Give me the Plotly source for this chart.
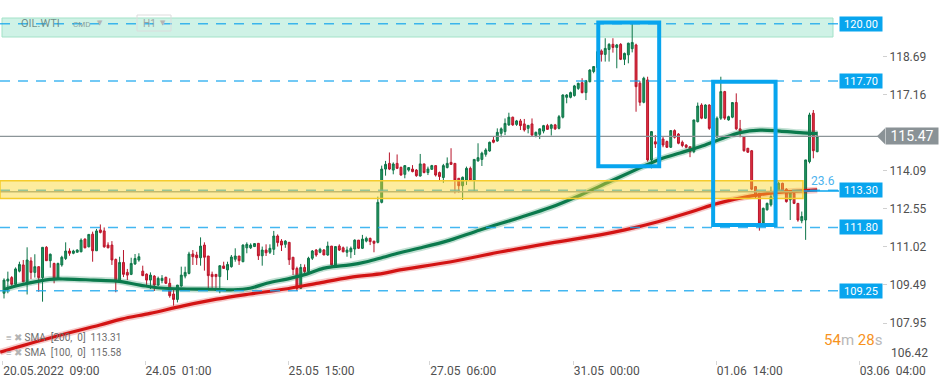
import plotly.graph_objects as go

# ---------------- data (OIL.WTI, H1) ----------------
open_ = [109.15,109.64,109.78,109.51,110.04,110.29,109.61,110.45,109.99,110.22,109.78,111.00,110.46,110.35,109.75,110.29,110.55,110.85,110.76,110.80,
110.82,111.33,111.02,111.53,110.86,111.70,111.66,111.09,111.09,110.51,109.61,110.39,109.99,109.91,110.33,110.49,110.04,109.92,109.68,109.84,
109.48,109.66,109.79,109.55,109.12,108.90,109.44,109.84,109.95,110.73,110.69,110.58,111.09,110.65,109.91,109.91,109.82,110.25,110.09,110.22,
110.52,110.65,110.42,110.98,110.98,111.03,111.16,110.66,110.89,110.80,110.92,111.455,111.25,111.12,111.20,110.60,110.15,109.35,110.19,110.02,
110.56,110.89,110.80,110.89,110.69,111.05,110.29,111.05,110.98,110.80,110.82,110.93,111.29,110.96,111.25,111.36,111.25,111.20,112.81,114.15,
114.38,114.11,114.38,114.22,113.94,114.11,114.15,114.11,113.87,114.36,114.01,114.14,114.29,114.01,113.81,114.21,114.42,114.38,113.78,113.48,
113.71,114.18,113.71,114.48,114.54,114.745,114.88,115.32,115.28,115.59,115.66,115.93,116.24,115.95,116.09,115.97,115.79,115.97,115.50,115.55,
115.68,115.90,115.79,115.93,115.79,116.24,117.04,117.04,117.11,117.40,117.63,117.23,117.67,118.08,118.24,118.91,118.77,118.97,119.175,119.05,
119.175,118.57,118.75,119.00,119.15,117.61,116.84,117.74,114.52,115.25,115.16,115.36,115.26,115.03,115.70,115.56,115.23,115.12,115.05,114.85,
116.06,116.73,116.20,116.73,115.79,115.45,116.20,117.27,116.13,116.24,116.83,115.77,115.46,114.99,114.89,113.445,113.175,111.97,112.51,112.71,
113.04,113.24,113.58,113.34,112.91,113.175,112.77,112.07,112.10,114.45,116.40,114.85]
high = [109.75,110.02,109.84,110.19,110.42,110.49,111.00,110.60,110.72,110.22,111.00,111.05,110.75,110.38,110.38,110.66,111.20,110.96,110.90,110.92,
111.36,111.36,111.53,111.63,111.74,111.92,111.80,111.20,111.25,110.55,110.62,110.89,110.13,110.58,110.73,110.76,110.26,109.95,109.99,109.88,
109.82,109.88,109.82,109.75,109.28,109.48,110.22,110.22,110.82,110.89,110.82,111.40,111.20,110.65,110.02,109.91,110.26,110.42,110.42,110.69,
110.96,110.65,111.12,111.20,111.16,111.17,111.17,111.03,111.12,111.12,111.66,111.52,111.33,111.29,111.20,110.60,110.22,110.33,110.31,110.62,
110.89,110.93,110.98,110.93,111.23,111.05,111.03,111.12,111.03,111.03,111.03,111.32,111.29,111.50,111.43,111.39,111.25,113.04,114.29,114.48,
114.82,114.42,114.74,114.25,114.31,114.23,114.31,114.15,114.76,114.36,114.25,114.32,114.29,114.05,114.36,114.62,114.99,114.38,113.78,113.85,
114.25,114.25,114.54,115.19,114.85,114.99,115.255,115.46,115.79,115.83,116.19,116.42,116.26,116.13,116.17,116.17,115.91,116.19,115.66,115.79,
115.93,115.97,115.97,115.97,116.33,117.16,117.17,117.27,117.54,117.63,117.81,117.74,118.17,118.30,118.92,118.97,119.42,119.22,119.42,119.19,
119.22,118.84,119.24,120.07,119.20,117.70,117.87,117.87,115.68,115.52,115.40,115.46,115.30,115.72,115.75,115.60,115.30,115.15,115.05,116.13,
116.83,116.80,116.76,116.76,115.85,116.27,117.87,117.30,116.30,116.85,117.20,116.13,115.46,115.00,114.92,113.445,113.175,112.60,112.80,113.445,
113.30,113.65,113.60,113.38,113.24,113.20,112.77,112.44,114.52,116.42,116.53,115.66]
low = [108.94,109.15,109.45,109.48,109.99,109.59,109.10,109.72,109.78,109.21,108.81,110.45,110.18,109.55,109.72,110.22,110.49,110.66,110.72,110.80,
110.80,110.96,111.00,110.42,110.85,111.56,110.98,110.96,110.29,109.19,109.61,109.80,109.68,109.88,110.29,110.42,109.84,109.45,109.32,109.24,
109.44,109.55,109.52,108.97,108.65,108.78,109.41,109.75,109.91,110.29,110.29,110.26,110.06,109.35,109.35,109.35,109.15,110.13,109.68,110.18,
110.42,110.29,110.40,110.76,110.93,111.01,110.49,110.26,110.65,110.73,110.69,111.03,110.85,110.98,110.29,109.88,109.24,109.32,109.88,110.00,
110.49,110.62,110.76,110.69,110.66,110.26,110.26,110.85,110.80,110.62,110.56,110.69,110.93,110.93,111.20,111.09,110.80,111.16,112.77,113.885,
114.11,113.94,114.15,113.885,113.78,114.05,114.02,113.84,113.85,113.98,113.91,114.12,113.85,113.71,113.60,114.18,114.32,113.17,113.20,112.91,
113.51,113.685,113.24,114.45,114.275,114.65,114.85,115.19,115.255,115.43,115.52,115.89,115.89,115.89,115.725,115.66,115.59,115.46,115.43,115.36,
115.59,115.725,115.50,115.725,115.75,116.19,116.80,117.00,117.07,117.34,117.20,116.93,117.645,118.01,118.21,118.48,118.48,118.48,118.84,118.21,
118.54,118.34,118.41,118.85,116.46,116.70,116.80,114.45,114.18,115.00,115.10,115.03,115.00,115.00,115.38,115.15,115.03,114.99,114.63,114.79,
116.03,116.16,116.17,115.73,115.38,115.40,116.13,116.13,116.10,116.20,115.73,115.43,114.85,114.80,113.30,112.97,111.67,111.94,112.48,112.64,
112.95,113.20,113.20,112.80,112.10,112.74,112.03,111.97,111.30,114.38,114.585,114.83]
close = [109.68,109.72,109.51,110.13,110.31,109.61,110.49,109.99,110.22,109.78,111.00,110.46,110.72,109.72,110.35,110.60,110.85,110.76,110.85,110.89,
111.29,110.98,111.52,110.86,111.66,111.60,111.02,110.98,110.49,109.61,110.39,109.91,109.88,110.35,110.55,110.62,109.86,109.68,109.88,109.48,
109.75,109.75,109.55,109.05,108.90,109.48,109.88,109.99,110.73,110.62,110.58,111.05,110.60,109.86,109.82,109.82,110.26,110.15,110.31,110.61,
110.65,110.46,111.09,111.12,111.09,111.15,110.66,110.89,110.78,110.96,111.455,111.19,111.09,111.25,110.50,110.11,109.35,110.19,110.02,110.56,
110.85,110.69,110.92,110.69,111.05,110.29,111.03,110.89,110.82,110.89,110.96,111.29,110.96,111.33,111.36,111.23,111.16,112.81,114.15,114.34,
114.15,114.355,114.18,113.91,114.29,114.21,114.05,113.885,114.36,114.01,114.155,114.29,113.91,113.85,114.29,114.38,114.34,113.71,113.48,113.82,
114.18,113.71,114.54,114.61,114.79,114.92,115.23,115.23,115.63,115.77,115.99,116.24,115.93,116.09,115.90,115.725,115.91,115.52,115.63,115.77,
115.90,115.75,115.93,115.77,116.26,117.135,117.135,117.23,117.50,117.605,117.23,117.71,118.14,118.28,118.88,118.77,119.01,119.175,119.05,119.15,
118.57,118.81,119.22,119.25,117.47,116.84,117.81,114.52,115.66,115.16,115.30,115.12,115.03,115.70,115.43,115.19,115.10,115.03,114.85,116.13,
116.69,116.20,116.73,115.79,115.45,116.20,117.27,116.20,116.26,116.83,115.77,115.66,114.89,114.83,113.34,113.04,111.97,112.57,112.77,113.04,
113.20,113.58,113.24,112.84,113.24,112.77,112.10,112.24,114.52,116.33,114.89,115.47]
candle_idx = list(range(len(close)))

# SMA lines (candle index, price)
sma100_idx = [0, 4.2, 11.9, 16.3, 23.2, 29.2, 35.3, 40.5, 47.4, 54.3, 59.5, 63.8, 68.2, 74.2, 78.5, 82.8, 85.4, 89.8,
              94.1, 98.4, 102.7, 107.9, 115.7, 123.5, 133.9, 141.7, 149.5, 157.2, 165, 170.2, 175.4, 180.6, 185.8,
              191, 196.2, 201.3, 206.5, 211]
sma100_val = [109.30, 109.48, 109.71, 109.72, 109.68, 109.64, 109.48, 109.36, 109.32, 109.31, 109.29, 109.35, 109.55,
              109.75, 109.92, 110.15, 110.22, 110.29, 110.42, 110.60, 110.78, 110.97, 111.29, 111.70, 112.20, 112.60,
              113.10, 113.65, 114.20, 114.55, 114.80, 115.05, 115.35, 115.62, 115.72, 115.68, 115.62, 115.58]
sma200_idx = [-1, 11.9, 24.9, 30.5, 37.9, 46.5, 55.2, 63.8, 72.5, 81.1, 89.8, 98.4, 102.7, 115.7, 128.7, 141.7, 154.7,
              161.1, 169.7, 178.4, 185.2, 194, 200.1, 207.8, 211]
sma200_val = [106.78, 107.35, 107.87, 108.11, 108.34, 108.64, 108.91, 109.12, 109.31, 109.55, 109.79, 109.95, 110.09,
              110.41, 110.81, 111.17, 111.50, 111.70, 112.03, 112.43, 112.77, 113.07, 113.20, 113.28, 113.31]

price_levels = [120.00, 117.70, 113.30, 111.80, 109.25]
last_price = 115.47
sma200_last = 113.31
sma100_last = 115.58
y_ticks = [107.95, 109.49, 111.02, 112.55, 114.09, 117.16, 118.69]
x_tickvals = [-0.3, 36.6, 73.7, 110.5, 147.7, 184.8, 221.9]
x_ticktext = ["20.05.2022  09:00", "24.05  01:00", "25.05  15:00", "27.05  06:00",
              "31.05  00:00", "01.06  14:00", "03.06  04:00"]
fib_text = "23.6"

# ---------------- figure ----------------
W, H = 949, 385
PLOT_H = 360
Y_RANGE = [120.96 - PLOT_H / 24.83, 120.96]
X_RANGE = [-1.038, 245.2]
FONT = "Roboto"
BLUE = "#08a5ee"


def px(x):
    return x / W


def py(y):
    return 1 - y / PLOT_H


fig = go.Figure()

# SMA glows + lines
fig.add_trace(go.Scatter(x=sma200_idx, y=sma200_val, mode="lines",
                         line=dict(color="rgba(215,20,20,0.22)", width=6.5, shape="spline"),
                         hoverinfo="skip", showlegend=False))
fig.add_trace(go.Scatter(x=sma100_idx, y=sma100_val, mode="lines",
                         line=dict(color="rgba(10,130,80,0.25)", width=6.5, shape="spline"),
                         hoverinfo="skip", showlegend=False))

fig.add_trace(go.Candlestick(
    x=candle_idx, open=open_, high=high, low=low, close=close,
    increasing=dict(line=dict(color="#0d7448", width=1), fillcolor="#23965f"),
    decreasing=dict(line=dict(color="#b8142a", width=1), fillcolor="#e0303f"),
    whiskerwidth=0, showlegend=False, hoverinfo="skip"))

fig.add_trace(go.Scatter(x=sma200_idx, y=sma200_val, mode="lines",
                         line=dict(color="#d31414", width=3.2, shape="spline"),
                         hoverinfo="skip", showlegend=False))
fig.add_trace(go.Scatter(x=sma100_idx, y=sma100_val, mode="lines",
                         line=dict(color="#0b7a4d", width=3.2, shape="spline"),
                         hoverinfo="skip", showlegend=False))
# dummy trace for the price scale axis
fig.add_trace(go.Scatter(x=[None], y=[None], yaxis="y2", showlegend=False, hoverinfo="skip"))

shapes = []
# 120 zone (mint)
shapes.append(dict(type="rect", xref="paper", yref="y", x0=px(2), x1=px(833), y0=119.47, y1=120.235,
                   fillcolor="#cff2e6", line=dict(color="#a3e2c8", width=1), layer="below"))
# dashed price levels
for lvl in price_levels:
    shapes.append(dict(type="line", xref="paper", yref="y", x0=0, x1=px(839), y0=lvl, y1=lvl,
                       line=dict(color="rgba(20,165,238,0.8)", width=1.5, dash="10px,8px"), layer="above"))
# gray fib line inside yellow zone, blue extension
shapes.append(dict(type="line", xref="paper", yref="y", x0=0, x1=px(803), y0=113.24, y1=113.24,
                   line=dict(color="#98a3a3", width=1.5), layer="above"))
shapes.append(dict(type="line", xref="paper", yref="y", x0=px(803), x1=px(839), y0=113.27, y1=113.27,
                   line=dict(color=BLUE, width=1.5), layer="above"))
# yellow zone
shapes.append(dict(type="rect", xref="paper", yref="y", x0=0, x1=px(803), y0=112.97, y1=113.68,
                   fillcolor="rgba(250,212,40,0.45)", line=dict(color="#f5cb2b", width=1.5), layer="above"))
# current price line
shapes.append(dict(type="line", xref="paper", yref="y", x0=0, x1=px(878), y0=last_price, y1=last_price,
                   line=dict(color="#8c9598", width=1.2), layer="above"))
# highlight boxes
shapes.append(dict(type="rect", xref="x", yref="y", x0=154.2, x1=170.0, y0=114.26, y1=120.05,
                   line=dict(color=BLUE, width=4), fillcolor="rgba(0,0,0,0)", layer="above"))
shapes.append(dict(type="rect", xref="x", yref="y", x0=184.0, x1=200.2, y0=111.90, y1=117.67,
                   line=dict(color=BLUE, width=4), fillcolor="rgba(0,0,0,0)", layer="above"))
# current price label arrow
d = 8 / 24.83
shapes.append(dict(type="path", xref="paper", yref="y",
                   path=f"M {px(877)},{last_price} L {px(885)},{last_price + d} L {px(885)},{last_price - d} Z",
                   fillcolor="#8a9296", line=dict(width=0), layer="above"))
# H1 box
shapes.append(dict(type="rect", xref="paper", yref="paper", x0=px(137), x1=px(171), y0=py(31), y1=py(15),
                   fillcolor="rgba(255,255,255,0)", line=dict(color="#dcdcdc", width=1), layer="above"))

annotations = []
for lvl in price_levels:
    annotations.append(dict(xref="paper", yref="y", x=px(839), y=lvl, xanchor="left", yanchor="middle",
                            text=f"{lvl:.2f}", showarrow=False, bgcolor=BLUE, width=42, height=14,
                            borderpad=0, font=dict(family=FONT, size=11, color="white")))
annotations.append(dict(xref="paper", yref="y", x=px(885), y=last_price, xanchor="left", yanchor="middle",
                        text=f"{last_price:.2f}", showarrow=False, bgcolor="#8a9296", width=52, height=16,
                        borderpad=0, font=dict(family=FONT, size=14, color="white")))
annotations.append(dict(xref="paper", yref="y", x=px(809), y=113.67, xanchor="left", yanchor="middle",
                        text=fib_text, showarrow=False, font=dict(family=FONT, size=12, color="#4db3ee")))
annotations.append(dict(xref="paper", yref="paper", x=px(889), y=py(353), xanchor="left", yanchor="middle",
                        text="106.42", showarrow=False, font=dict(family=FONT, size=12, color="#505050")))
# top-left instrument header
annotations.append(dict(xref="paper", yref="paper", x=px(19), y=py(24), xanchor="left", yanchor="middle",
                        text="OIL.WTI", showarrow=False, font=dict(family=FONT, size=11, color="rgba(95,125,120,0.85)")))
annotations.append(dict(xref="paper", yref="paper", x=px(71), y=py(25), xanchor="left", yanchor="middle",
                        text="CMD", showarrow=False, font=dict(family=FONT, size=8, color="rgba(120,140,138,0.8)")))
annotations.append(dict(xref="paper", yref="paper", x=px(95), y=py(23), xanchor="left", yanchor="middle",
                        text="▼", showarrow=False, font=dict(family="DejaVu Sans", size=7, color="#b5b5b5")))
annotations.append(dict(xref="paper", yref="paper", x=px(141), y=py(24), xanchor="left", yanchor="middle",
                        text="H1", showarrow=False, font=dict(family=FONT, size=10, color="#9aa5a5")))
annotations.append(dict(xref="paper", yref="paper", x=px(158), y=py(23), xanchor="left", yanchor="middle",
                        text="▼", showarrow=False, font=dict(family="DejaVu Sans", size=7, color="#b5b5b5")))
# SMA legend
for ypx, per, val in [(337, 200, sma200_last), (352.5, 100, sma100_last)]:
    annotations.append(dict(xref="paper", yref="paper", x=px(4), y=py(ypx), xanchor="left", yanchor="middle",
                            text="<span style='color:#a0a0a0'>≡</span> <span style='color:#b4b4b4'>✖</span> "
                                 f"<span style='color:#6e6e6e'>SMA  [{per},  0]  {val:.2f}</span>",
                            showarrow=False, font=dict(family=FONT, size=10, color="#777")))
# countdown
annotations.append(dict(xref="paper", yref="paper", x=px(822), y=py(340), xanchor="left", yanchor="middle",
                        text="<span style='color:#f7931e'>54</span><span style='color:#b8b8b8'>m</span> "
                             "<span style='color:#f7931e'>28</span><span style='color:#b8b8b8'>s</span>",
                        showarrow=False, font=dict(family=FONT, size=15, color="#f7931e")))

fig.update_layout(
    width=W, height=H,
    margin=dict(l=0, r=0, t=0, b=H - PLOT_H),
    paper_bgcolor="white", plot_bgcolor="white",
    showlegend=False,
    boxgap=0.3,
    font=dict(family=FONT, size=12, color="#505050"),
    xaxis=dict(domain=[0, 1], range=X_RANGE, showgrid=False, zeroline=False, showline=False,
               rangeslider=dict(visible=False), tickmode="array", tickvals=x_tickvals, ticktext=x_ticktext,
               ticks="outside", ticklen=4, tickcolor="#d6d6d6", ticklabelposition="outside right",
               tickfont=dict(family=FONT, size=12, color="#505050")),
    yaxis=dict(range=Y_RANGE, showgrid=False, zeroline=False, showline=False, showticklabels=False,
               ticks=""),
    yaxis2=dict(range=Y_RANGE, overlaying="y", anchor="free", position=882 / W, side="right",
                showgrid=False, zeroline=False, showline=False, tickmode="array", tickvals=y_ticks,
                ticktext=[f"{v:.2f}" for v in y_ticks], ticks="outside", ticklen=4, tickcolor="#d0d0d0",
                tickfont=dict(family=FONT, size=12, color="#505050")),
    shapes=shapes,
    annotations=annotations,
)

fig.write_html("out.html", config={"displayModeBar": False},
               post_script="document.body.style.margin='0px';")
